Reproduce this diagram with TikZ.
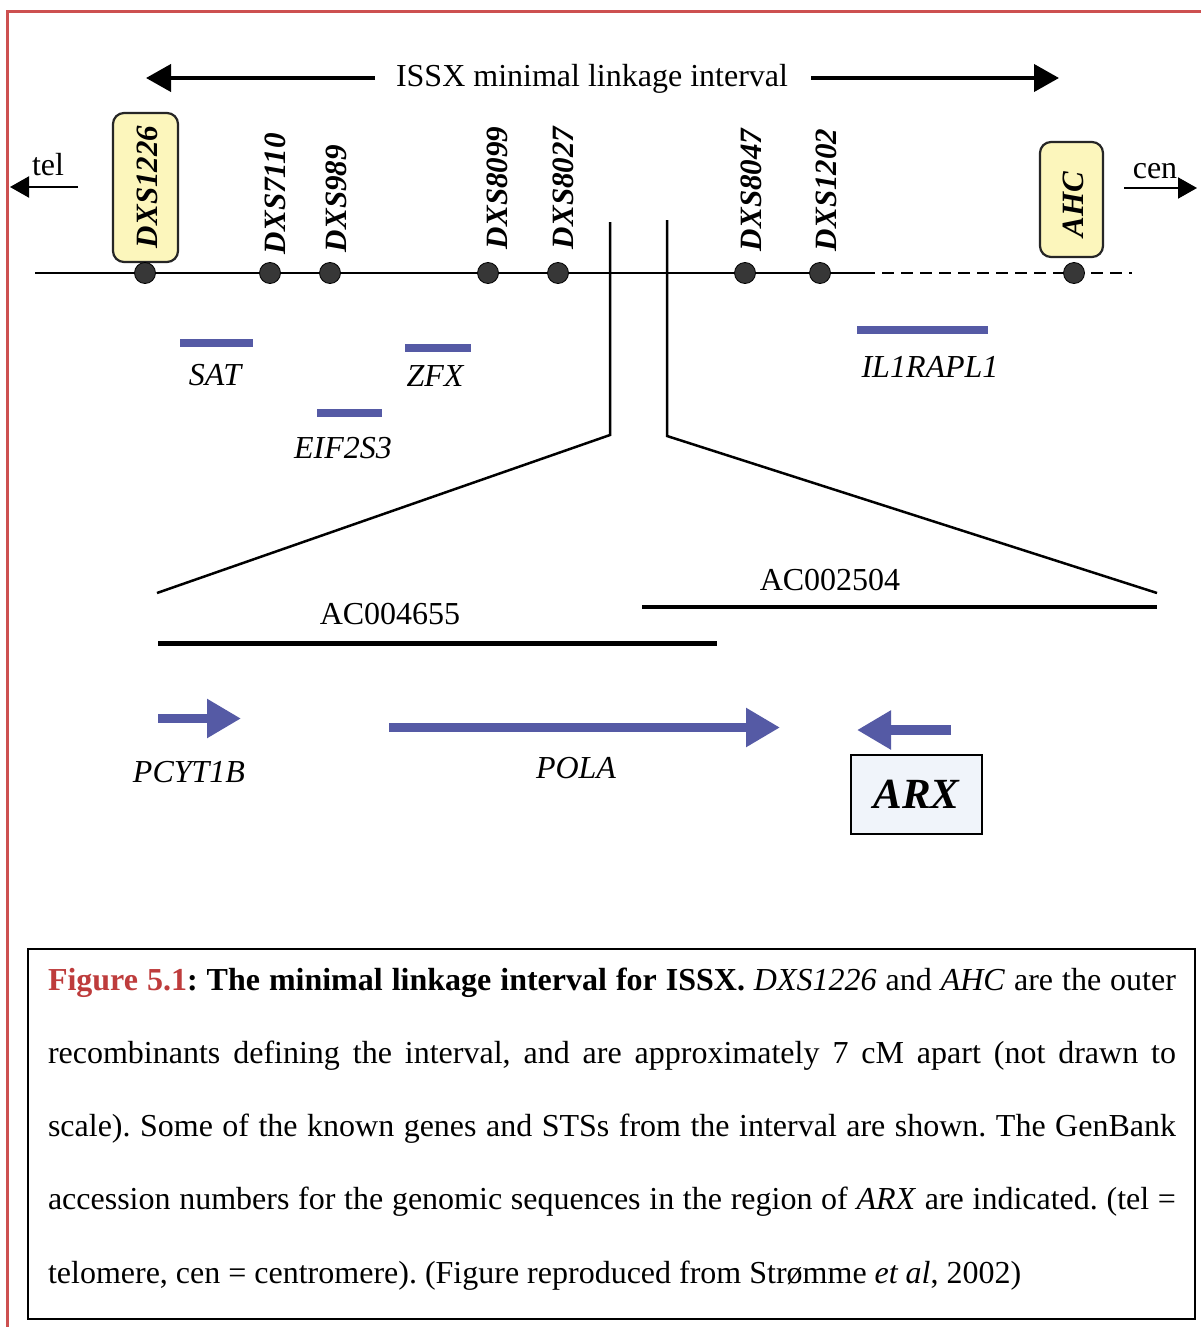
\documentclass[tikz,border=0pt]{standalone}
\usepackage{fontspec}
\setmainfont{Liberation Serif}
\usetikzlibrary{arrows.meta}
\definecolor{borderred}{RGB}{205,80,80}
\definecolor{capred}{RGB}{190,60,60}
\definecolor{geneblue}{RGB}{85,90,165}
\definecolor{boxyellow}{RGB}{252,246,188}
\definecolor{dotgray}{RGB}{55,55,55}
\definecolor{arxfill}{RGB}{240,244,250}
\frenchspacing
\begin{document}
\begin{tikzpicture}[x=1pt,y=-1pt,
  every node/.style={inner sep=0pt, outer sep=0pt},
  lbl/.style={font=\fontsize{32}{38}\selectfont},
  ilbl/.style={font=\fontsize{32}{38}\selectfont\itshape, anchor=base},
  mk/.style={font=\fontsize{31}{36}\selectfont\bfseries\itshape, rotate=90, anchor=base west},
  dot/.style={circle, fill=dotgray, draw=black, line width=0.8pt, minimum size=21pt},
  ybox/.style={draw=black!85, line width=2.2pt, fill=boxyellow, rounded corners=11pt},
  bigarrow/.style={line width=4pt, -{Triangle[length=25pt,width=27pt]}},
  smallarrow/.style={line width=2pt, -{Triangle[length=19pt,width=21pt]}},
  genebar/.style={geneblue, line width=8pt},
  genearrow/.style={geneblue, line width=9.5pt, -{Triangle[length=34pt,width=37pt]}},
  zoomline/.style={line width=2.5pt},
  capline/.style={anchor=base west, font=\fontsize{32}{38}\selectfont}
]
\useasboundingbox (0,0) rectangle (1201,1327);
\fill[white] (0,0) rectangle (1201,1327);

% page border
\draw[borderred, line width=3pt] (7,1327) -- (7,12) -- (1201,12);

% interval title and arrows
\node[lbl, anchor=base] (issx) at (592,87) {ISSX minimal linkage interval};
\coordinate (issxLs) at (375,78);
\coordinate (issxL) at (146,78);
\coordinate (issxRs) at (811,78);
\coordinate (issxR) at (1059,78);
\draw[bigarrow] (issxLs) -- (issxL);
\draw[bigarrow] (issxRs) -- (issxR);

% tel / cen
\node[lbl, anchor=base] (tel) at (48,175) {tel};
\coordinate (telS) at (78,187);
\coordinate (telT) at (10,187);
\draw[smallarrow] (telS) -- (telT);
\node[lbl, anchor=base] (cen) at (1155,178) {cen};
\coordinate (cenS) at (1124,188);
\coordinate (cenT) at (1197,188);
\draw[smallarrow] (cenS) -- (cenT);

% chromosome line
\coordinate (chrL) at (35,273);
\coordinate (chrM) at (875,273);
\coordinate (chrD) at (882,273);
\coordinate (chrR) at (1132,273);
\draw[line width=2pt] (chrL) -- (chrM);
\draw[line width=2pt, dash pattern=on 12pt off 7pt] (chrD) -- (chrR);

% outer recombinant boxes
\node[ybox, minimum width=65pt, minimum height=149pt] (b1226) at (145.5,187.5) {};
\node[ybox, minimum width=63pt, minimum height=115pt] (bahc) at (1071.5,199.5) {};

% markers
\foreach \nm/\x in {1226/145, 7110/270, 989/330, 8099/488, 8027/558, 8047/745, 1202/820, ahc/1074}
  \node[dot] (d\nm) at (\x,273) {};

\node[mk] (m1226) at (157,248) {DXS1226};
\node[mk] (m7110) at (285,254) {DXS7110};
\node[mk] (m989)  at (346,252) {DXS989};
\node[mk] (m8099) at (507,249) {DXS8099};
\node[mk] (m8027) at (573,249) {DXS8027};
\node[mk] (m8047) at (761,251) {DXS8047};
\node[mk] (m1202) at (836,251) {DXS1202};
\node[mk] (mahc)  at (1083,237) {AHC};

% genes in interval
\coordinate (satL) at (180,343);  \coordinate (satR) at (253,343);
\coordinate (zfxL) at (405,347.5); \coordinate (zfxR) at (471,347.5);
\coordinate (eifL) at (317,412.5); \coordinate (eifR) at (382,412.5);
\coordinate (ilL) at (857,330);  \coordinate (ilR) at (988,330);
\draw[genebar] (satL) -- (satR);
\draw[genebar] (zfxL) -- (zfxR);
\draw[genebar] (eifL) -- (eifR);
\draw[genebar] (ilL) -- (ilR);
\node[ilbl] (sat) at (215,385) {SAT};
\node[ilbl] (zfx) at (435,386) {ZFX};
\node[ilbl] (eif) at (343,458) {EIF2S3};
\node[ilbl] (il1) at (930,377) {IL1RAPL1};

% zoom lines
\coordinate (zl1) at (610,222); \coordinate (zl2) at (610,435); \coordinate (zl3) at (157,593);
\coordinate (zr1) at (667,220); \coordinate (zr2) at (667,436); \coordinate (zr3) at (1157,593);
\draw[zoomline] (zl1) -- (zl2) -- (zl3);
\draw[zoomline] (zr1) -- (zr2) -- (zr3);

% genomic contigs
\coordinate (c1L) at (158,643); \coordinate (c1R) at (717,643);
\coordinate (c2L) at (642,607); \coordinate (c2R) at (1157,607);
\draw[line width=5pt] (c1L) -- (c1R);
\draw[line width=4.5pt] (c2L) -- (c2R);
\node[lbl, anchor=base] (ac4655) at (390,624) {AC004655};
\node[lbl, anchor=base] (ac2504) at (830,590) {AC002504};

% genes near ARX
\coordinate (pcS) at (158,718.5); \coordinate (pcT) at (241,718.5);
\coordinate (poS) at (389,727.5); \coordinate (poT) at (780,727.5);
\coordinate (arS) at (951,730);   \coordinate (arT) at (857,730);
\draw[genearrow] (pcS) -- (pcT);
\draw[genearrow] (poS) -- (poT);
\draw[genearrow] (arS) -- (arT);
\node[ilbl] (pcyt) at (189,782) {PCYT1B};
\node[ilbl] (pola) at (576,778) {POLA};
\node[draw, line width=2.5pt, fill=arxfill, minimum width=131pt, minimum height=79pt,
      font=\fontsize{43}{50}\selectfont\bfseries\itshape] (arx) at (916.5,794.5) {ARX};

% caption
\node[draw, line width=2.2pt, minimum width=1167pt, minimum height=370pt] (capbox) at (611.5,1134) {};
\node[capline] (cap1) at (48,990) {\makebox[1128pt][s]{\textbf{\textcolor{capred}{Figure 5.1}: The minimal linkage interval for ISSX.} \textit{DXS1226} and \textit{AHC} are the outer}};
\node[capline] (cap2) at (48,1063) {\makebox[1128pt][s]{recombinants defining the interval, and are approximately 7 cM apart (not drawn to}};
\node[capline] (cap3) at (48,1136) {\makebox[1128pt][s]{scale). Some of the known genes and STSs from the interval are shown. The GenBank}};
\node[capline] (cap4) at (48,1209) {\makebox[1128pt][s]{accession numbers for the genomic sequences in the region of \textit{ARX} are indicated. (tel =}};
\node[capline] (cap5) at (48,1283) {telomere, cen = centromere). (Figure reproduced from Strømme \textit{et al}, 2002)};
\end{tikzpicture}
\end{document}
